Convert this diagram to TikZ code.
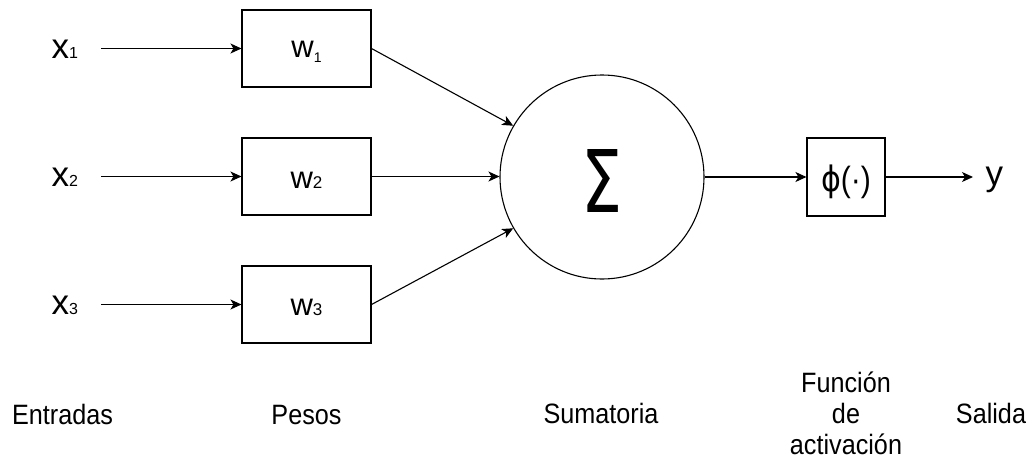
\documentclass[tikz,border=0pt]{standalone}
\usepackage{fontspec}
\setmainfont{Liberation Sans}
\newfontfamily\symfont{DejaVu Sans}
\usetikzlibrary{arrows.meta}
\newcommand\narrowtxt[1]{\scalebox{0.9}[1]{#1}}
\begin{document}
\begin{tikzpicture}[x=1pt,y=-1pt,
  line width=1.1pt,
  conn/.style={-{Stealth[length=11pt,width=10pt,inset=3pt]}},
  wbox/.style={draw, rectangle, minimum width=129pt, minimum height=77pt,
    inner sep=0pt, font=\fontsize{31}{36}\selectfont, text depth=0pt},
  xlab/.style={anchor=base west, inner sep=0pt, font=\fontsize{35}{40}\selectfont},
  lab/.style={anchor=base, inner sep=0pt, font=\fontsize{28}{31}\selectfont, align=center}
]
\useasboundingbox (0,0) rectangle (1033,458);

% input labels
\node[xlab] (x1) at (51,58) {x{\fontsize{16}{18}\selectfont 1}};
\node[xlab] (x2) at (51,186.5) {x{\fontsize{16}{18}\selectfont 2}};
\node[xlab] (x3) at (51,314.5) {x{\fontsize{16}{18}\selectfont 3}};
\coordinate (a1) at (101,48.5);
\coordinate (a2) at (101,176.5);
\coordinate (a3) at (101,304.5);

% weight boxes
\node[wbox, text height=17pt] (w1) at (306.5,48.5) {w\raisebox{-5pt}{\fontsize{14}{16}\selectfont 1}};
\node[wbox, text height=23pt] (w2) at (306.5,176.5) {w{\fontsize{17}{18}\selectfont 2}};
\node[wbox, text height=21pt] (w3) at (306.5,304.5) {w{\fontsize{17}{18}\selectfont 3}};

% summation
\node[draw, circle, minimum size=204pt, inner sep=0pt] (s) at (602,177)
  {\raisebox{0pt}[71pt][0pt]{\resizebox{41pt}{63pt}{\symfont Σ}}};

% activation
\node[draw, rectangle, minimum width=78pt, minimum height=78pt, inner sep=0pt,
  font=\fontsize{35}{40}\selectfont, text height=28pt, text depth=0pt] (phi) at (846,177)
  {\scalebox{0.86}[1]{{\symfont ϕ}(·)}};

% output
\coordinate (ye) at (973,177);
\node[xlab] (y) at (985,185) {y};

% connectors
\draw[conn] (a1) -- (w1.west);
\draw[conn] (a2) -- (w2.west);
\draw[conn] (a3) -- (w3.west);
\draw[conn] (w1.east) -- (s.150);
\draw[conn] (w2.east) -- (w2.east -| s.west);
\draw[conn] (w3.east) -- (s.210);
\draw[conn] (s.east) -- (phi.west);
\draw[conn] (phi.east) -- (ye);

% bottom captions
\node[lab] (lent) at (62.5,424) {\narrowtxt{Entradas}};
\node[lab] (lpes) at (306.5,424) {\narrowtxt{Pesos}};
\node[lab] (lsum) at (601,423) {\narrowtxt{Sumatoria}};
\node[lab] (lfun) at (846,454) {\narrowtxt{Función}\\\narrowtxt{de}\\\narrowtxt{activación}};
\node[lab] (lsal) at (991,423) {\narrowtxt{Salida}};
\end{tikzpicture}
\end{document}
